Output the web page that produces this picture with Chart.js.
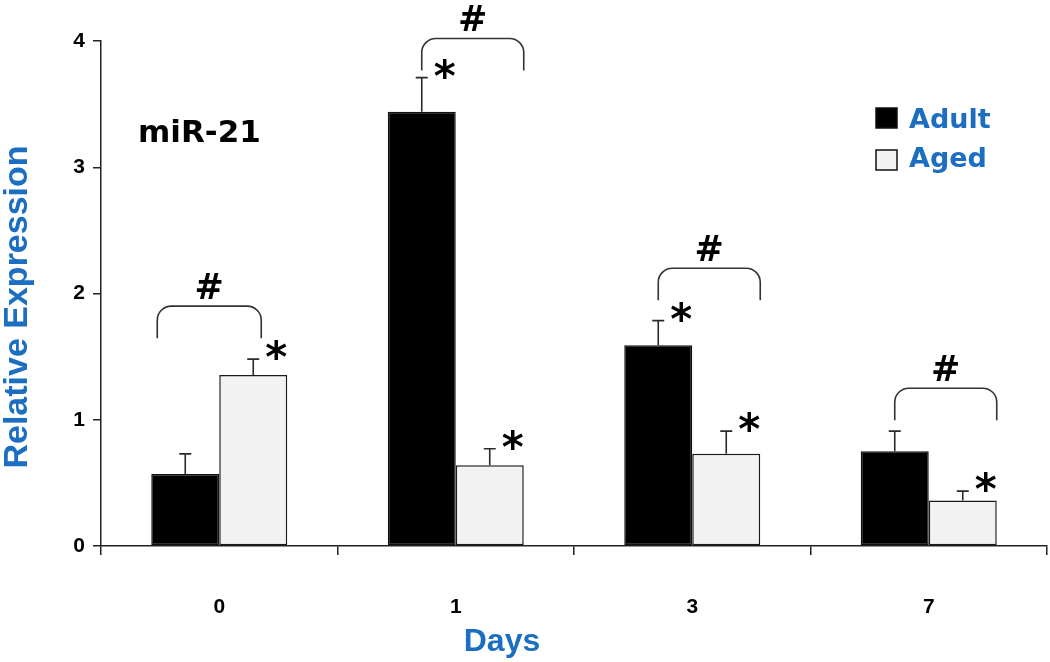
<!DOCTYPE html>
<html>
<head>
<meta charset="utf-8">
<script src="https://cdn.jsdelivr.net/npm/chart.js@4.4.1/dist/chart.umd.min.js"></script>
<style>
  html, body { margin: 0; padding: 0; background: #fff; }
</style>
</head>
<body>
<canvas id="myChart" width="1050" height="662"></canvas>
<script>
// values
const days = ["0", "1", "3", "7"];
const adult = [0.57, 3.44, 1.59, 0.75];
const aged = [1.355, 0.64, 0.73, 0.36];
const adultErr = [0.16, 0.27, 0.195, 0.16];
const agedErr = [0.125, 0.13, 0.18, 0.075];
const adultStar = [false, true, true, false];
const agedStar = [true, true, true, true];
const bracketLevel = [1.9, 4.02, 2.2, 1.25];
const yTicks = [0, 1, 2, 3, 4];

const BLUE = '#1b6ec2';
const INK = '#222';

// draws txt with its glyph box centred vertically on cy
function centredText(ctx, txt, x, cy) {
    const m = ctx.measureText(txt);
    const base = cy + (m.actualBoundingBoxAscent - m.actualBoundingBoxDescent) / 2;
    ctx.fillText(txt, x, base);
}

const marks = {
    id: 'marks',
    afterDatasetsDraw(chart) {
        const ctx = chart.ctx;
        const y = chart.scales.y;
        const area = chart.chartArea;
        const m0 = chart.getDatasetMeta(0);
        const m1 = chart.getDatasetMeta(1);
        ctx.save();

        // error bars (upper whisker only)
        ctx.strokeStyle = '#2a2a2a';
        ctx.lineWidth = 1.6;
        [[m0, adult, adultErr], [m1, aged, agedErr]].forEach(([meta, vals, errs]) => {
            meta.data.forEach((bar, i) => {
                const top = y.getPixelForValue(vals[i] + errs[i]);
                ctx.beginPath();
                ctx.moveTo(bar.x, bar.y);
                ctx.lineTo(bar.x, top);
                ctx.moveTo(bar.x - 6, top);
                ctx.lineTo(bar.x + 6, top);
                ctx.stroke();
            });
        });

        // significance stars
        ctx.fillStyle = '#000';
        ctx.textAlign = 'center';
        ctx.font = 'bold 42px "DejaVu Sans"';
        [[m0, adult, adultErr, adultStar], [m1, aged, agedErr, agedStar]].forEach(([meta, vals, errs, flags]) => {
            meta.data.forEach((bar, i) => {
                if (!flags[i]) return;
                const top = y.getPixelForValue(vals[i] + errs[i]);
                centredText(ctx, '*', bar.x + 23, top - 9);
            });
        });

        // brackets with #
        ctx.strokeStyle = '#333';
        ctx.lineWidth = 1.6;
        const r = 14;
        days.forEach((d, i) => {
            const b0 = m0.data[i], b1 = m1.data[i];
            let L, R;
            if (i === 0) {
                L = b0.x - b0.width / 2 + 6;
                R = b1.x + 8;
            } else {
                L = b0.x;
                R = b1.x + b1.width / 2;
            }
            const yt = y.getPixelForValue(bracketLevel[i]);
            const ye = yt + 32;
            ctx.beginPath();
            ctx.moveTo(L, ye);
            ctx.arcTo(L, yt, L + r, yt, r);
            ctx.arcTo(R, yt, R, yt + r, r);
            ctx.lineTo(R, ye);
            ctx.stroke();
            ctx.font = 'bold 35px "DejaVu Sans"';
            centredText(ctx, '#', (L + R) / 2, yt - 20);
        });

        // panel label
        ctx.textAlign = 'left';
        ctx.font = 'bold 31px "DejaVu Sans"';
        centredText(ctx, 'miR-21', area.left + 37, 130);

        // legend
        const lx = area.right - 171;
        const rows = [[chart.data.datasets[0], 118], [chart.data.datasets[1], 160]];
        rows.forEach(([ds, cy]) => {
            ctx.fillStyle = ds.backgroundColor;
            ctx.fillRect(lx, cy - 10, 21, 20);
            ctx.strokeStyle = '#111';
            ctx.lineWidth = 1.5;
            ctx.strokeRect(lx, cy - 10, 21, 20);
            ctx.fillStyle = BLUE;
            ctx.font = 'bold 27px "DejaVu Sans"';
            centredText(ctx, ds.label, lx + 33, cy);
        });

        // axis titles
        ctx.fillStyle = BLUE;
        ctx.textAlign = 'center';
        ctx.font = 'bold 32px "Liberation Sans"';
        ctx.textBaseline = 'alphabetic';
        ctx.fillText('Days', 502, 651);
        ctx.translate(27, 307);
        ctx.rotate(-Math.PI / 2);
        ctx.font = 'bold 34px "Liberation Sans"';
        ctx.fillText('Relative Expression', 0, 0);
        ctx.restore();
    }
};

new Chart(document.getElementById('myChart'), {
    type: 'bar',
    data: {
        labels: days,
        datasets: [
            {
                label: 'Adult',
                data: adult,
                backgroundColor: '#000000',
                borderColor: '#111',
                borderWidth: 1.5,
                borderSkipped: false,
                categoryPercentage: 0.575,
                barPercentage: 1
            },
            {
                label: 'Aged',
                data: aged,
                backgroundColor: '#f2f2f2',
                borderColor: '#1a1a1a',
                borderWidth: 1.5,
                borderSkipped: false,
                categoryPercentage: 0.575,
                barPercentage: 1
            }
        ]
    },
    options: {
        responsive: false,
        animation: false,
        devicePixelRatio: 1,
        layout: { padding: { top: 41, right: 3, left: 0, bottom: 0 } },
        plugins: { legend: { display: false }, tooltip: { enabled: false } },
        scales: {
            x: {
                grid: { drawOnChartArea: false, tickLength: 9, color: INK, lineWidth: 1.5 },
                border: { color: INK, width: 1.5 },
                ticks: { color: '#000', font: { family: 'Liberation Sans', weight: 'bold', size: 21 }, padding: 40 },
                afterFit(s) { s.height = 116; }
            },
            y: {
                min: 0,
                max: 4,
                afterBuildTicks(s) { s.ticks = yTicks.map(v => ({ value: v })); },
                grid: { drawOnChartArea: false, tickLength: 8, color: INK, lineWidth: 1.5 },
                border: { color: INK, width: 1.5 },
                ticks: { color: '#000', font: { family: 'Liberation Sans', weight: 'bold', size: 21 }, padding: 8 },
                afterFit(s) { s.width = 101; }
            }
        }
    },
    plugins: [marks]
});
</script>
</body>
</html>
